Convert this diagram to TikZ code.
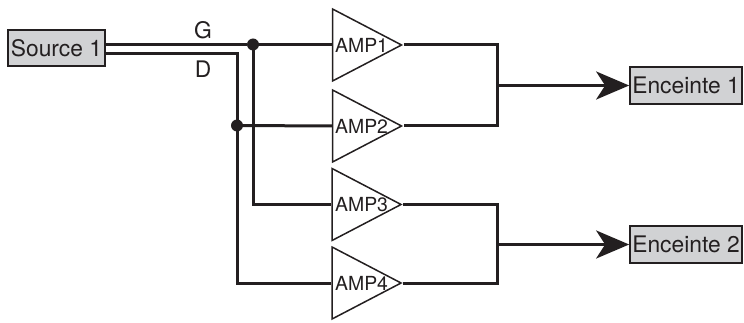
\documentclass[tikz,border=0pt]{standalone}
\usepackage{fontspec}
\setmainfont{TeX Gyre Heros}
\usetikzlibrary{shapes.geometric,arrows.meta}
\definecolor{ink}{HTML}{231F20}
\definecolor{boxgray}{HTML}{D1D2D4}
\tikzset{
  x=1pt,y=-1pt,
  every node/.style={text=ink},
  boxnode/.style={draw=ink,line width=1.7pt,fill=boxgray,inner sep=0pt,font=\fontsize{22.8}{26}\selectfont,anchor=center},
  amp/.style={draw=ink,line width=1.5pt,isosceles triangle,isosceles triangle stretches=true,shape border rotate=0,minimum width=72pt,minimum height=69pt,inner sep=0pt,anchor=apex},
  amplabel/.style={font=\fontsize{19.4}{21}\selectfont,inner sep=0pt,anchor=west},
  wire/.style={draw=ink,line width=3pt,line join=miter},
  dotnode/.style={circle,fill=ink,inner sep=0pt,minimum size=12pt},
  arrowwire/.style={draw=ink,line width=3pt,-{Stealth[length=33pt,width=28pt,inset=9pt]}},
  siglabel/.style={font=\fontsize{22.8}{26}\selectfont,inner sep=0pt}
}
\begin{document}
\begin{tikzpicture}
\useasboundingbox (0,0) rectangle (744,323);
\node[boxnode,minimum width=97pt,minimum height=36pt] (src) at (56.5,48) {Source 1};
\node[boxnode,minimum width=112pt,minimum height=37pt] (enc1) at (686,85.5) {Enceinte 1};
\node[boxnode,minimum width=112pt,minimum height=37pt] (enc2) at (686,244.5) {Enceinte 2};
\node[amp] (a1) at (403.5,45) {};
\node[amp] (a2) at (403.5,126) {};
\node[amp] (a3) at (403,204.5) {};
\node[amp] (a4) at (403,283) {};
\node[amplabel] (l1) at (335,45) {AMP1};
\node[amplabel] (l2) at (335,126) {AMP2};
\node[amplabel] (l3) at (335,204.5) {AMP3};
\node[amplabel] (l4) at (335,283) {AMP4};
\node[dotnode] (jg) at (253,44.5) {};
\node[dotnode] (jd) at (237,125.5) {};
\coordinate (g0) at (105,44.5);
\coordinate (d0) at (105,54);
\coordinate (m1) at (497,85.5);
\coordinate (m2) at (497,244.5);
\node[siglabel] (G) at (203,30) {G};
\node[siglabel] (D) at (203,69.5) {D};
\draw[wire] (g0) -- (jg) -- (a1.west |- jg);
\draw[wire] (d0) -- (jd.center |- d0) -- (jd.center) -- (237,283) -- (a4.west |- a4.apex);
\draw[wire] (jd) -- (a2.west |- a2.apex);
\draw[wire] (jg.center) -- (253,204.5) -- (a3.west |- a3.apex);
\draw[wire] (a1.apex) -- (m1 |- a1.apex) -- (m1 |- a2.apex) -- (a2.apex);
\draw[wire] (a3.apex) -- (m2 |- a3.apex) -- (m2 |- a4.apex) -- (a4.apex);
\draw[arrowwire] (m1) -- (enc1.west);
\draw[arrowwire] (m2) -- (enc2.west);
\end{tikzpicture}
\end{document}
